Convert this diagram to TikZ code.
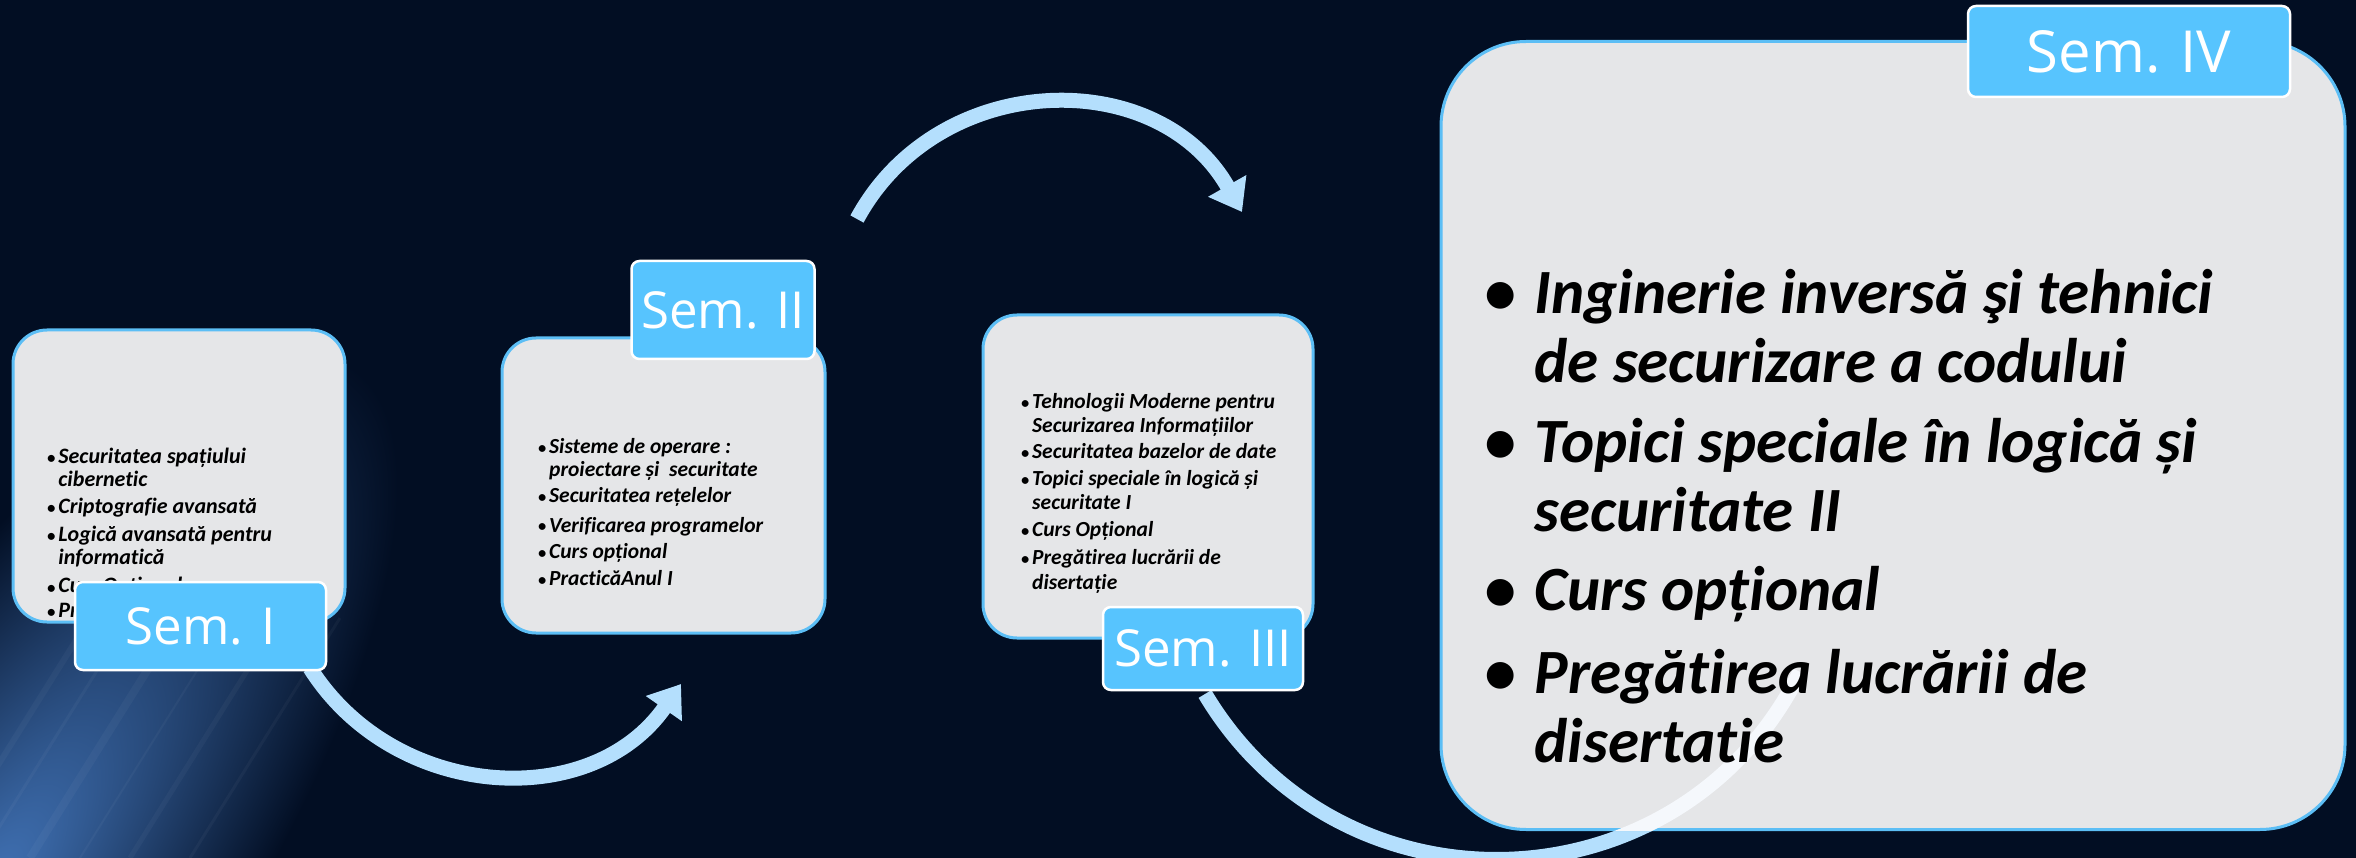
\documentclass[tikz,border=0pt]{standalone}
\usepackage{fontspec}
\setmainfont{Carlito}[RawFeature={-liga}]
\newfontfamily\tagfont{Open Sans}
\usetikzlibrary{arrows.meta}

\definecolor{bgnavy}{HTML}{020E23}
\definecolor{glowblue}{HTML}{4274B8}
\definecolor{cardgray}{HTML}{E5E6E8}
\definecolor{cardedge}{HTML}{5CBEF5}
\definecolor{tagblue}{HTML}{57C4FE}
\definecolor{arrowblue}{HTML}{B4DFFD}
\definecolor{arcwhite}{HTML}{F5F8FC}

\newcommand{\cardfont}[2]{\fontsize{#1}{#2}\selectfont\bfseries\itshape}
\newcommand{\cardbullet}{\scalebox{0.75}{\textbullet}}

\tikzset{
  semcard/.style={draw=cardedge, line width=3pt, fill=cardgray, rounded corners=34pt, inner sep=0pt},
  semtag/.style={draw=white, line width=2.5pt, fill=tagblue, rounded corners=8pt, inner sep=0pt, text=white},
  cardtext/.style={inner sep=0pt, anchor=base west, text=black},
  flowline/.style={draw=arrowblue, line width=15pt},
  flowarrow/.style={flowline, -{Triangle[length=30pt, width=42pt]}},
}

\begin{document}
\begin{tikzpicture}[x=1pt, y=-1pt]
    \useasboundingbox (0,0) rectangle (2356,858);

    % --- Background ---
    \fill[bgnavy] (0,0) rectangle (2356,858);
    \begin{scope}
      \clip (0,0) rectangle (2356,858);
      \begin{scope}[transform canvas={rotate around={55:(-20,900)}}]
        \shade[inner color=glowblue, outer color=bgnavy] (-20,900) ellipse [x radius=650, y radius=230];
      \end{scope}
      % light streaks in the corner
      \foreach \sx/\sw in {-60/6, -20/3, 30/8, 80/2, 130/5, 190/3}
        \draw[white, opacity=0.035, line width=\sw pt] (\sx,858) -- ++(150,-240);
    \end{scope}

    % --- Arrow from Sem. III, passing behind the last card ---
    \coordinate (a3s) at (1205,694);
    \coordinate (a3e) at (1800,672);
    \draw[flowline] (a3s) .. controls +(137,230) and +(-119,240) .. (a3e);

    % --- Cards ---
    \node[semcard, minimum width=332pt, minimum height=292pt] (cardI) at (179,476) {};
    \node[semcard, minimum width=323pt, minimum height=295pt] (cardII) at (663.5,485.5) {};
    \node[semcard, minimum width=330pt, minimum height=323pt] (cardIII) at (1148,476.5) {};
    \node[semcard, rounded corners=85pt, minimum width=904pt, minimum height=788pt] (cardIV) at (1893,435.5) {};

    % arrow seen through the last card
    \begin{scope}
      \clip[rounded corners=85pt] (cardIV.south west) rectangle (cardIV.north east);
      \draw[flowline, draw=arcwhite] (a3s) .. controls +(137,230) and +(-119,240) .. (a3e);
    \end{scope}

    % --- Arrows between semesters ---
    \coordinate (a1s) at (310,668);
    \coordinate (a1e) at (681,684);
    \draw[flowarrow] (a1s) .. controls +(84,133) and +(-90,129) .. (a1e);
    \coordinate (a2s) at (857,219);
    \coordinate (a2e) at (1242,212);
    \draw[flowarrow] (a2s) .. controls +(81,-150) and +(-84,-148) .. (a2e);

    % --- Course lists ---
    \node[cardtext, font=\cardfont{22}{23}] (listI) at (47,463) {%
      \begin{tabular}[t]{@{}l@{\hspace{3pt}}l@{}}
        \cardbullet & Securitatea spațiului\\
                    & cibernetic\\[5pt]
        \cardbullet & Criptografie avansată\\[4pt]
        \cardbullet & Logică avansată pentru\\
                    & informatică\\[6pt]
        \cardbullet & Curs Opțional\\[1pt]
        \cardbullet & Practică
      \end{tabular}};
    \node[cardtext, font=\cardfont{21.5}{24}] (listII) at (538,453) {%
      \begin{tabular}[t]{@{}l@{\hspace{3pt}}l@{}}
        \cardbullet & Sisteme de operare :\\
                    & proiectare și \ securitate\\[2pt]
        \cardbullet & Securitatea rețelelor\\[5pt]
        \cardbullet & Verificarea programelor\\[2pt]
        \cardbullet & Curs opțional\\[3pt]
        \cardbullet & PracticăAnul I
      \end{tabular}};
    \node[cardtext, font=\cardfont{21.5}{24}] (listIII) at (1021,409) {%
      \begin{tabular}[t]{@{}l@{\hspace{3pt}}l@{}}
        \cardbullet & Tehnologii Moderne pentru\\
                    & Securizarea Informațiilor\\[2pt]
        \cardbullet & Securitatea bazelor de date\\[3pt]
        \cardbullet & Topici speciale în logică și\\
                    & securitate I\\[3pt]
        \cardbullet & Curs Opțional\\[4pt]
        \cardbullet & Pregătirea lucrării de\\
                    & disertație
      \end{tabular}};
    \node[cardtext, font=\cardfont{63}{69}] (listIV) at (1484,314) {%
      \begin{tabular}[t]{@{}l@{\hspace{19pt}}l@{}}
        \textbullet & Inginerie inversă şi tehnici\\
                    & de securizare a codului\\[11pt]
        \textbullet & Topici speciale în logică și\\
                    & securitate II\\[10pt]
        \textbullet & Curs opțional\\[14pt]
        \textbullet & Pregătirea lucrării de\\
                    & disertatie
      \end{tabular}};

    % --- Semester tags ---
    \node[semtag, minimum width=251pt, minimum height=88pt, font=\tagfont\fontsize{51}{60}\selectfont] (semI) at (200.5,626) {Sem. I};
    \node[semtag, minimum width=183pt, minimum height=98pt, font=\tagfont\fontsize{51}{60}\selectfont] (semII) at (723,310) {Sem. II};
    \node[semtag, minimum width=200pt, minimum height=83pt, font=\tagfont\fontsize{51}{60}\selectfont] (semIII) at (1203,648.5) {Sem. III};
    \node[semtag, minimum width=322pt, minimum height=91pt, font=\tagfont\fontsize{58}{66}\selectfont] (semIV) at (2129,51.5) {Sem. IV};

\end{tikzpicture}
\end{document}
